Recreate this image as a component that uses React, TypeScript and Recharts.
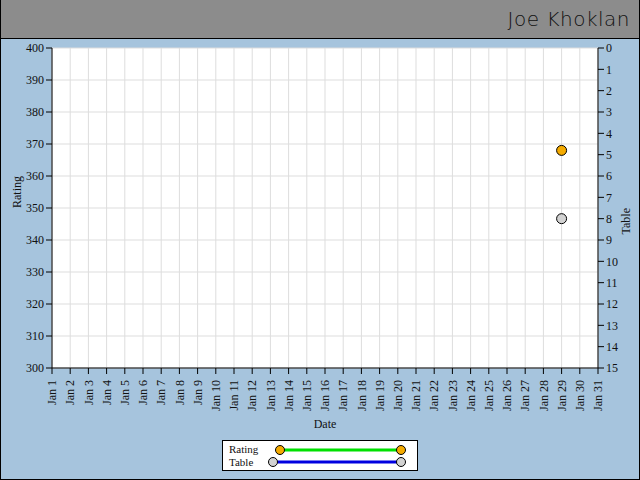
import React from "react";
import { LineChart, Line, XAxis, YAxis, CartesianGrid } from "recharts";

const days = Array.from({ length: 31 }, (_, i) => `Jan ${i + 1}`);
const ratingValues: (number | null)[] = [
  null, null, null, null, null, null, null, null, null, null,
  null, null, null, null, null, null, null, null, null, null,
  null, null, null, null, null, null, null, null, 368, null, null,
];
const tableValues: (number | null)[] = [
  null, null, null, null, null, null, null, null, null, null,
  null, null, null, null, null, null, null, null, null, null,
  null, null, null, null, null, null, null, null, 8, null, null,
];
const ratingTicks = [300, 310, 320, 330, 340, 350, 360, 370, 380, 390, 400];
const tableTicks = [0, 1, 2, 3, 4, 5, 6, 7, 8, 9, 10, 11, 12, 13, 14, 15];

const data = days.map((d, i) => ({ date: d, rating: ratingValues[i], table: tableValues[i] }));

const font = "'Liberation Serif', serif";

const DateTick = (props: any) => {
  const { x, y, payload } = props;
  const ty = y + 4;
  return (
    <text
      x={x}
      y={ty}
      dy="0.35em"
      transform={`rotate(-90, ${x}, ${ty})`}
      textAnchor="end"
      fontSize={12}
      fontFamily={font}
      fill="#111"
    >
      {payload.value}
    </text>
  );
};

const LegendBox = () => (
  <svg width={196} height={32} style={{ display: "block" }}>
    <rect x={0.5} y={0.5} width={195} height={30} fill="#fff" stroke="#000" />
    <text x={7} y={13} fontSize={11} fontFamily={font} fill="#111">Rating</text>
    <text x={7} y={26} fontSize={11} fontFamily={font} fill="#111">Table</text>
    <line x1={58} y1={10} x2={179} y2={10} stroke="#00e000" strokeWidth={3} />
    <circle cx={58} cy={10} r={4.5} fill="#f5ab00" stroke="#000" />
    <circle cx={179} cy={10} r={4.5} fill="#f5ab00" stroke="#000" />
    <line x1={51} y1={22} x2={179} y2={22} stroke="#0000e0" strokeWidth={3} />
    <circle cx={51} cy={22} r={4.5} fill="#d2d2d2" stroke="#000" />
    <circle cx={179} cy={22} r={4.5} fill="#d2d2d2" stroke="#000" />
  </svg>
);

export default function App() {
  return (
    <div
      style={{
        position: "fixed",
        top: 0,
        left: 0,
        width: 640,
        height: 480,
        background: "#a6c4dd",
        boxSizing: "border-box",
        borderLeft: "1px solid #000",
        borderRight: "1px solid #000",
        borderBottom: "1px solid #000",
        overflow: "hidden",
      }}
    >
      <div
        style={{
          position: "absolute",
          top: 0,
          left: -1,
          width: 640,
          height: 38,
          background: "#8c8c8c",
          borderBottom: "1px solid #000",
        }}
      >
        <span
          style={{
            position: "absolute",
            right: 10,
            top: 7,
            fontFamily: "'DejaVu Sans', sans-serif",
            fontWeight: 300,
            fontSize: 20,
            color: "#111",
            letterSpacing: 0.5,
          }}
        >
          Joe Khoklan
        </span>
      </div>
      <div style={{ position: "absolute", top: 0, left: -1 }}>
        <LineChart width={640} height={480} data={data} margin={{ top: 48, right: 0, left: 0, bottom: 62 }}>
          <CartesianGrid stroke="#dddddd" fill="#ffffff" yAxisId="rating" />
          <XAxis
            dataKey="date"
            interval={0}
            height={50}
            tick={<DateTick />}
            tickSize={6}
            axisLine={{ stroke: "#000" }}
            tickLine={{ stroke: "#000" }}
            label={{ value: "Date", position: "insideBottom", offset: -10, fontSize: 12, fontFamily: font, fill: "#111" }}
          />
          <YAxis
            yAxisId="rating"
            orientation="left"
            width={52}
            domain={[300, 400]}
            ticks={ratingTicks}
            interval={0}
            tickSize={6}
            tick={{ fontSize: 12, fontFamily: font, fill: "#111" }}
            axisLine={{ stroke: "#000" }}
            tickLine={{ stroke: "#000" }}
            label={{ value: "Rating", angle: -90, position: "insideLeft", offset: 17, fontSize: 12, fontFamily: font, fill: "#111" }}
          />
          <YAxis
            yAxisId="table"
            orientation="right"
            width={42}
            domain={[0, 15]}
            reversed
            ticks={tableTicks}
            interval={0}
            tickSize={6}
            tick={{ fontSize: 12, fontFamily: font, fill: "#111" }}
            axisLine={{ stroke: "#000" }}
            tickLine={{ stroke: "#000" }}
            label={{ value: "Table", angle: -90, position: "insideRight", offset: 14, fontSize: 12, fontFamily: font, fill: "#111" }}
          />
          <Line
            yAxisId="rating"
            dataKey="rating"
            name="Rating"
            stroke="#00e000"
            strokeWidth={3}
            dot={{ r: 5, fill: "#f5ab00", stroke: "#000", strokeWidth: 1 }}
            isAnimationActive={false}
          />
          <Line
            yAxisId="table"
            dataKey="table"
            name="Table"
            stroke="#0000e0"
            strokeWidth={3}
            dot={{ r: 5, fill: "#d2d2d2", stroke: "#000", strokeWidth: 1 }}
            isAnimationActive={false}
          />
        </LineChart>
      </div>
      <div style={{ position: "absolute", left: 221, top: 440 }}>
        <LegendBox />
      </div>
    </div>
  );
}
